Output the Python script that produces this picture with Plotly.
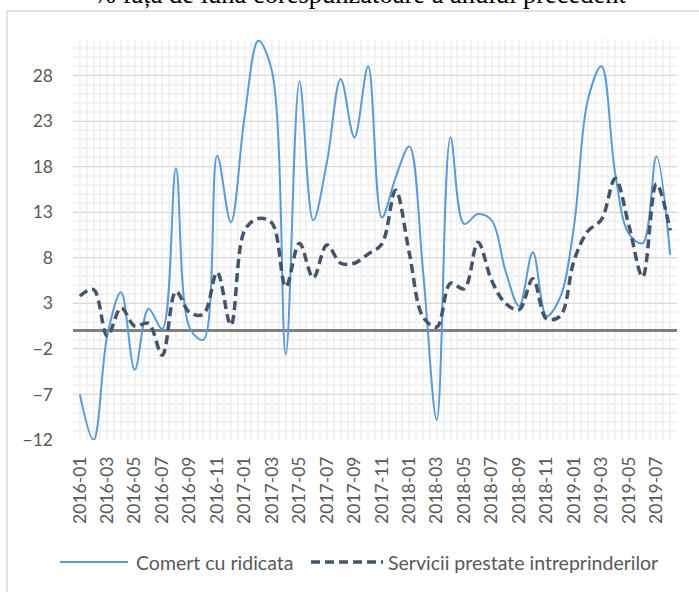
import plotly.graph_objects as go

months = [f"{y}-{m:02d}" for y in (2016, 2017, 2018, 2019) for m in range(1, 13)][:44]

comert = [-7.0, -12.0, -0.5, 4.2, -4.3, 2.4, 0.2, 17.8, 0.3, -1.0,
          19.2, 11.9, 23.5, 31.8, 28.4, -2.6, 27.3, 12.1, 18.5, 27.6,
          21.2, 29.0, 12.4, 16.8, 20.2, 6.5, -9.8, 21.2, 11.7, 12.8,
          12.1, 6.6, 2.7, 8.6, 1.6, 3.7, 11.5, 25.3, 29.0, 17.2,
          10.6, 9.6, 19.1, 8.3]

servicii = [3.8, 4.5, -0.6, 2.5, 0.5, 0.8, -2.7, 4.3, 2.0, 1.8,
            6.4, 0.6, 11.0, 12.3, 11.8, 4.8, 9.6, 5.8, 9.4, 7.4,
            7.4, 8.4, 9.5, 15.4, 8.5, 1.5, 0.4, 5.2, 4.6, 9.7,
            5.5, 3.0, 2.3, 5.7, 1.3, 1.6, 7.7, 10.9, 12.2, 16.7,
            11.5, 5.9, 16.1, 11.0]

title_text = "% față de luna corespunzătoare a anului precedent"
legend_names = ["Comert cu ridicata", "Servicii prestate intreprinderilor"]
y_ticks = [-12, -7, -2, 3, 8, 13, 18, 23, 28]

idx = list(range(len(months)))

W, H = 699, 592
ML, MR, MT, MB = 73, 22, 39, 152
PW, PH = W - ML - MR, H - MT - MB

def px_x(p):
    return (p - ML) / PW

def px_y(p):
    return (H - MB - p) / PH

fig = go.Figure()
fig.add_trace(go.Scatter(
    x=idx, y=comert, mode="lines", name=legend_names[0],
    line=dict(color="#5B9BD5", width=2, shape="spline", smoothing=1.0),
    showlegend=False))
fig.add_trace(go.Scatter(
    x=idx, y=servicii, mode="lines", name=legend_names[1],
    line=dict(color="#44546A", width=3.5, shape="spline", smoothing=1.0, dash="9px,5px"),
    showlegend=False))

tick_font = dict(family="Lato", size=17.5, color="#595959")

fig.update_layout(
    width=W, height=H,
    margin=dict(l=ML, r=MR, t=MT, b=MB, pad=0),
    paper_bgcolor="white", plot_bgcolor="white",
    showlegend=False,
    xaxis=dict(
        range=[-0.5, len(months) - 0.5],
        tickmode="array", tickvals=idx[::2], ticktext=months[::2],
        tickangle=-90, tickfont=tick_font, ticks="", ticklabelstandoff=12,
        showgrid=True, gridcolor="#F2F2F2", gridwidth=2,
        minor=dict(dtick=0.5, tick0=-0.5, showgrid=True, gridcolor="#F2F2F2", gridwidth=2),
        zeroline=False, showline=False,
    ),
    yaxis=dict(
        range=[-12, 32],
        tickmode="array", tickvals=y_ticks,
        tickfont=tick_font, ticks="", ticklabelstandoff=19,
        showgrid=True, gridcolor="#D9D9D9", gridwidth=1.3,
        minor=dict(dtick=1, tick0=-12, showgrid=True, gridcolor="#F2F2F2", gridwidth=2),
        zeroline=True, zerolinecolor="#808080", zerolinewidth=3,
        showline=False,
    ),
)

# chart frame
fig.add_shape(type="rect", xref="paper", yref="paper",
              x0=px_x(7), x1=px_x(720), y0=px_y(620), y1=px_y(11),
              line=dict(color="#D9D9D9", width=1.5), fillcolor="rgba(0,0,0,0)", layer="below")

# cut-off title above the frame
fig.add_annotation(xref="paper", yref="paper", x=px_x(360), y=px_y(-5.5),
                   text=title_text, showarrow=False, xanchor="center", yanchor="middle",
                   font=dict(family="Liberation Serif", size=26.5, color="black"))

# legend
leg_y = 562
fig.add_shape(type="line", xref="paper", yref="paper",
              x0=px_x(60), x1=px_x(128), y0=px_y(leg_y), y1=px_y(leg_y),
              line=dict(color="#5B9BD5", width=2))
fig.add_annotation(xref="paper", yref="paper", x=px_x(134), y=px_y(leg_y),
                   text=legend_names[0], showarrow=False, xanchor="left", yanchor="middle",
                   font=dict(family="Lato", size=19.5, color="#595959"))
fig.add_shape(type="line", xref="paper", yref="paper",
              x0=px_x(311), x1=px_x(383), y0=px_y(leg_y), y1=px_y(leg_y),
              line=dict(color="#44546A", width=3.5, dash="9px,5px"))
fig.add_annotation(xref="paper", yref="paper", x=px_x(386), y=px_y(leg_y),
                   text=legend_names[1], showarrow=False, xanchor="left", yanchor="middle",
                   font=dict(family="Lato", size=19.5, color="#595959"))

fig.write_html("out.html",
               config={"displayModeBar": False},
               post_script="document.body.style.margin='0';document.body.style.overflow='hidden';")
